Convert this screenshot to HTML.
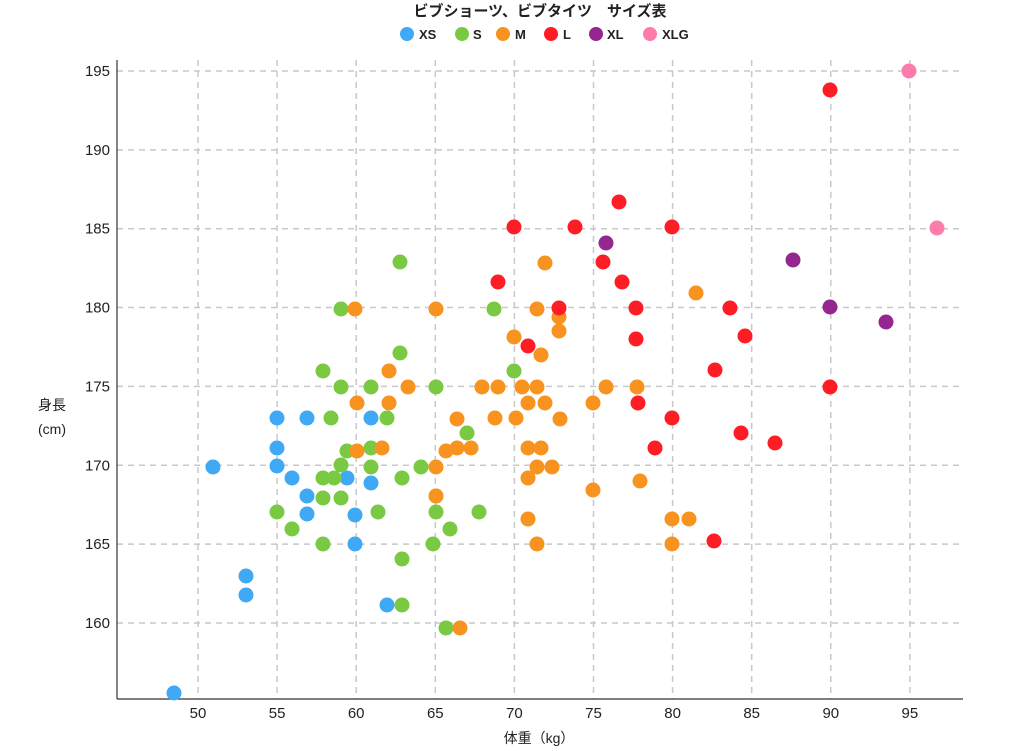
<!DOCTYPE html>
<html><head><meta charset="utf-8"><style>
body{margin:0;background:#fff}
svg{display:block;font-family:"Liberation Sans","Noto Sans CJK JP",sans-serif}
</style></head><body>
<svg id="s" width="1024" height="751" xmlns="http://www.w3.org/2000/svg">
<text x="540" y="16" text-anchor="middle" font-size="15" font-weight="bold" fill="#222">ビブショーツ、ビブタイツ　サイズ表</text>
<g font-size="13" font-weight="bold" fill="#222">
<circle cx="407" cy="34" r="7" fill="#3fa9f5"/><text x="419" y="39">XS</text>
<circle cx="462" cy="34" r="7" fill="#7ac943"/><text x="473" y="39">S</text>
<circle cx="503" cy="34" r="7" fill="#f7931e"/><text x="515" y="39">M</text>
<circle cx="551" cy="34" r="7" fill="#ff1d25"/><text x="563" y="39">L</text>
<circle cx="596" cy="34" r="7" fill="#93278f"/><text x="607" y="39">XL</text>
<circle cx="650" cy="34" r="7" fill="#ff7bac"/><text x="662" y="39">XLG</text>
</g>
<g id="grid" stroke="#c8c8c8" stroke-width="1.5" stroke-dasharray="6,5"></g>
<line x1="117" y1="60" x2="117" y2="699" stroke="#333" stroke-width="1.2"/>
<line x1="117" y1="699" x2="963" y2="699" stroke="#333" stroke-width="1.2"/>
<g id="lab" font-size="15" fill="#222"></g>
<text x="539" y="743" text-anchor="middle" font-size="14" fill="#222">体重（kg）</text>
<text x="52" y="410" text-anchor="middle" font-size="14" fill="#222">身長</text>
<text x="52" y="434" text-anchor="middle" font-size="14" fill="#222">(cm)</text>
<g id="pts"></g>
</svg>
<script>
var NS="http://www.w3.org/2000/svg",g=document.getElementById('grid'),l=document.getElementById('lab'),p=document.getElementById('pts');
function el(par,t,a,txt){var e=document.createElementNS(NS,t);for(var k in a)e.setAttribute(k,a[k]);if(txt)e.textContent=txt;par.appendChild(e);}
for(var i=0;i<10;i++){var x=198+i*79.1;el(g,'line',{x1:x,y1:60,x2:x,y2:699});el(l,'text',{x:x,y:718,'text-anchor':'middle'},String(50+i*5));}
for(var i=0;i<8;i++){var y=623-i*78.86;el(g,'line',{x1:117,y1:y,x2:963,y2:y});el(l,'text',{x:110,y:y+5,'text-anchor':'end'},String(160+i*5));}
var D={"#3fa9f5":[[174,693],[213,467],[246,576],[246,595],[277,418],[277,448],[277,466],[292,478],[307,418],[307,496],[307,514],[347,478],[355,515],[355,544],[371,418],[371,483],[387,605]],
"#7ac943":[[277,512],[292,529],[323,371],[323,478],[323,498],[323,544],[331,418],[334,478],[341,309],[341,387],[341,465],[341,498],[347,451],[371,387],[371,448],[371,467],[378,512],[387,418],[400,262],[400,353],[402,478],[402,559],[402,605],[421,467],[433,544],[436,387],[436,512],[436,496],[446,628],[450,529],[467,433],[479,512],[494,309],[514,371]],
"#f7931e":[[355,309],[357,403],[357,451],[382,448],[389,371],[389,403],[408,387],[436,309],[436,467],[436,496],[446,451],[457,419],[457,448],[460,628],[471,448],[482,387],[495,418],[498,387],[514,337],[516,418],[522,387],[528,403],[528,448],[528,478],[528,519],[537,309],[537,387],[537,467],[537,544],[541,355],[541,448],[545,263],[545,403],[552,467],[559,317],[559,331],[560,419],[593,403],[593,490],[606,387],[637,387],[640,481],[672,519],[672,544],[689,519],[696,293]],
"#ff1d25":[[498,282],[514,227],[528,346],[559,308],[575,227],[603,262],[619,202],[622,282],[636,308],[636,339],[638,403],[655,448],[672,227],[672,418],[715,370],[714,541],[730,308],[741,433],[745,336],[775,443],[830,90],[830,387]],
"#93278f":[[606,243],[793,260],[830,307],[886,322]],
"#ff7bac":[[909,71],[937,228]]};
for(var c in D)D[c].forEach(function(q){el(p,'circle',{cx:q[0],cy:q[1],r:7.5,fill:c});});
</script>
</body></html>
